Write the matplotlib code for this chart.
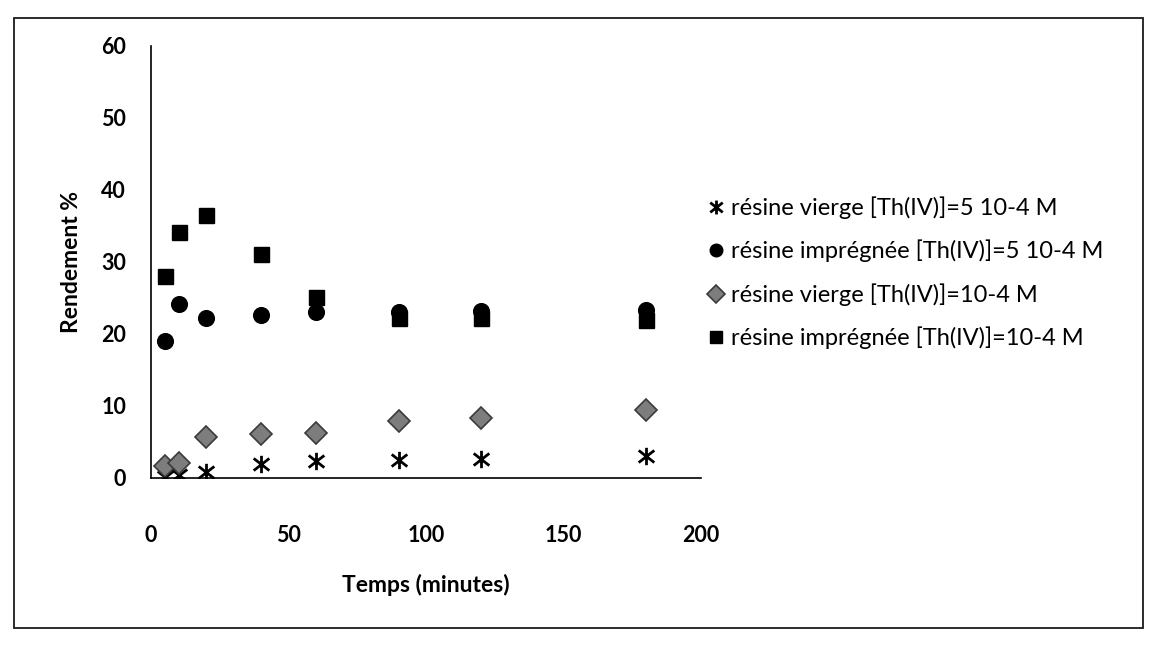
import matplotlib
matplotlib.use("Agg")
import matplotlib.pyplot as plt
from matplotlib.path import Path
from matplotlib.patches import Rectangle

plt.rcParams['font.family'] = ['Lato', 'DejaVu Sans']

# Contact time (minutes)
time_min = [5, 10, 20, 40, 60, 90, 120, 180]

# Extraction yield (%) for each resin / thorium concentration
vierge_5e4 = [0.2, 0.4, 0.8, 1.9, 2.3, 2.5, 2.6, 3.0]
impregnee_5e4 = [19.0, 24.2, 22.2, 22.7, 23.0, 23.1, 23.2, 23.4]
vierge_1e4 = [1.6, 2.1, 5.7, 6.1, 6.3, 7.9, 8.4, 9.4]
impregnee_1e4 = [28.1, 34.2, 36.5, 31.1, 25.2, 22.2, 22.2, 22.0]

series_labels = [
    "résine vierge [Th(IV)]=5 10-4 M",
    "résine imprégnée [Th(IV)]=5 10-4 M",
    "résine vierge [Th(IV)]=10-4 M",
    "résine imprégnée [Th(IV)]=10-4 M",
]

x_ticks = [0, 50, 100, 150, 200]
y_ticks = [0, 10, 20, 30, 40, 50, 60]

# Excel-style star marker: an X crossed by a vertical bar
star = Path(
    [(0, -1), (0, 1), (-0.9, -0.7), (0.9, 0.7), (-0.9, 0.7), (0.9, -0.7)],
    [Path.MOVETO, Path.LINETO, Path.MOVETO, Path.LINETO, Path.MOVETO, Path.LINETO],
)

W, H = 1151, 648
fig = plt.figure(figsize=(W / 100, H / 100), dpi=100)
fig.patch.set_facecolor("white")

# outer chart-area border
fig.add_artist(Rectangle((14 / W, 1 - 628 / H), (1143 - 14) / W, (628 - 18) / H,
                         transform=fig.transFigure, fill=False,
                         edgecolor="#1a1a1a", linewidth=1.3))

ax = fig.add_axes([151 / W, 1 - 478 / H, (701 - 151) / W, (478 - 46) / H])

styles = [
    dict(marker=star, markersize=12.5, markeredgewidth=2.0, color="black",
         fillstyle="none", markeredgecolor="black"),
    dict(marker="o", markersize=11.3, color="black", markeredgecolor="black"),
    dict(marker="D", markersize=11.5, color="#7d7d7d", markeredgecolor="#3a3a3a",
         markeredgewidth=1.2),
    dict(marker="s", markersize=10.8, color="black", markeredgecolor="black"),
]
all_series = [vierge_5e4, impregnee_5e4, vierge_1e4, impregnee_1e4]

handles = []
for vals, st, lab in zip(all_series, styles, series_labels):
    h, = ax.plot(time_min, vals, linestyle="none", label=lab, **st)
    handles.append(h)

ax.set_xlim(0, 200)
ax.set_ylim(0, 60)
ax.set_xticks(x_ticks)
ax.set_yticks(y_ticks)
ax.tick_params(axis="both", length=0, labelsize=15.5)
ax.tick_params(axis="x", pad=34)
ax.tick_params(axis="y", pad=18)
for lbl in ax.get_xticklabels() + ax.get_yticklabels():
    lbl.set_fontweight("bold")

for side in ("top", "right"):
    ax.spines[side].set_visible(False)
for side in ("left", "bottom"):
    ax.spines[side].set_linewidth(1.2)
    ax.spines[side].set_color("black")

ax.set_xlabel("Temps (minutes)", fontsize=16.5, fontweight="bold", labelpad=20)
ax.set_ylabel("Rendement %", fontsize=16.5, fontweight="bold", labelpad=14)

leg = fig.legend(handles=handles, labels=series_labels, loc="upper left",
                 bbox_to_anchor=(698 / W, 1 - 187 / H), frameon=False,
                 fontsize=17, handlelength=0.7, handletextpad=0.3,
                 labelspacing=0.88, markerscale=0.8, borderaxespad=0)

fig.savefig("out.png", dpi=100, facecolor="white")
